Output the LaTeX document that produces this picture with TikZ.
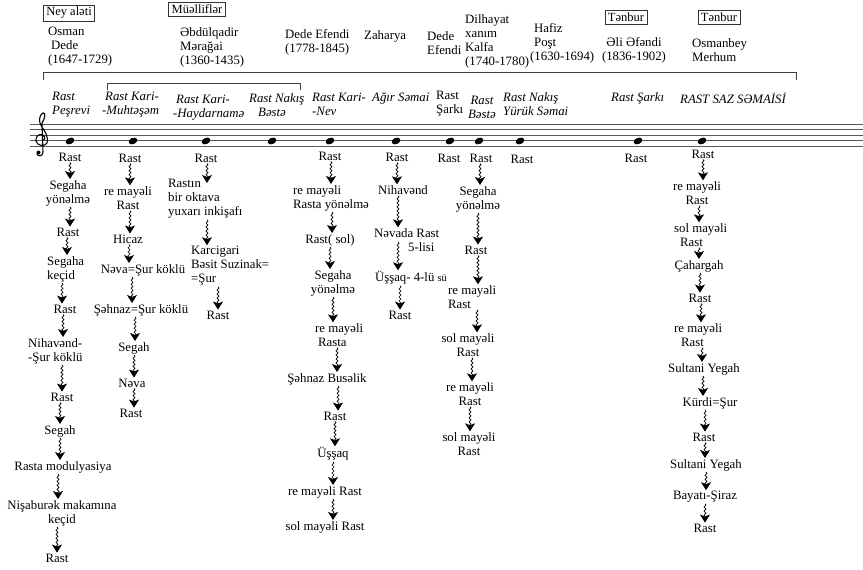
\documentclass[tikz,border=0pt]{standalone}
\usepackage{fontspec}
\setmainfont{Liberation Serif}
\usetikzlibrary{arrows.meta,decorations.pathmorphing}
\newcommand\fl[3]{\draw[flow] (#1.south -| #3,0) -- (#2.north -| #3,0);}
\begin{document}
\begin{tikzpicture}[x=1pt,y=-1pt,
  lbl/.style={font=\fontsize{12.8}{14}\selectfont, inner sep=1pt, align=center},
  hdr/.style={lbl, align=left, anchor=west},
  lft/.style={lbl, align=left, anchor=west},
  ttl/.style={lbl, font=\fontsize{12.8}{14}\selectfont\itshape, align=left, anchor=west},
  hbox/.style={draw=black!80, line width=0.6pt, inner xsep=3pt, inner ysep=2.5pt, font=\fontsize{12.5}{14}\selectfont},
  brk/.style={draw=black!75, line width=0.7pt},
  staff/.style={draw=black!65, line width=0.7pt},
  flow/.style={line width=0.7pt, decorate,
    decoration={snake, amplitude=1pt, segment length=4pt, post length=2pt},
    -{Stealth[length=8pt,width=10pt,inset=2pt]}}
]
\fill[white] (0,0) rectangle (863,570);
\useasboundingbox (0,0) rectangle (863,570);

% ---------- header ----------
\node[hbox] (hb1) at (69,13) {Ney aləti};
\node[hdr] (h1) at (47,47) {Osman\\\hspace*{3pt}Dede\\(1647-1729)};
\node[hbox] (hb2) at (197,9) {Müəlliflər};
\node[hdr] (h2) at (179,47) {Əbdülqadir\\Mərağai\\(1360-1435)};
\node[hdr] (h3) at (284,42) {Dede Efendi\\(1778-1845)};
\node[hdr] (h4) at (363,36) {Zaharya};
\node[hdr] (h5) at (426,43) {\hspace*{0pt}Dede\\Efendi};
\node[hdr] (h6) at (464,41) {Dilhayat\\xanım\\Kalfa\\(1740-1780)};
\node[hdr] (h7) at (529,43) {\hspace*{4pt}Hafiz\\\hspace*{4pt}Poşt\\(1630-1694)};
\node[hbox] (hb3) at (626,17.5) {Tənbur};
\node[lbl] (h8) at (634,50) {Əli Əfəndi\\(1836-1902)};
\node[hbox] (hb4) at (719,17.5) {Tənbur};
\node[hdr] (h9) at (691,50) {Osmanbey\\Merhum};

% ---------- brackets ----------
\draw[brk] (43,80) -- (43,72.5) -- (796,72.5) -- (796,80);
\draw[brk] (107,90) -- (107,83) -- (300,83) -- (300,90);

% ---------- titles ----------
\node[ttl] (t1) at (51,104.5) {Rast\\Peşrevi};
\node[ttl] (t2) at (101,104.5) {\hspace*{3pt}Rast Kari-\\-Muhtəşəm};
\node[ttl] (t3) at (172,107.5) {\hspace*{3pt}Rast Kari-\\-Haydarnamə};
\node[ttl] (t4) at (248,105) {Rast Nakış\\\hspace*{9pt}Bəstə};
\node[ttl] (t5) at (311,104.5) {Rast Kari-\\-Nev};
\node[ttl] (t6) at (371,98.5) {Ağır Səmai};
\node[lbl, align=left, anchor=west] (t7) at (435,104) {Rast\\Şarkı};
\node[lbl, font=\fontsize{12.8}{14}\selectfont\itshape] (t8) at (482,107.5) {Rast\\Bəstə};
\node[ttl] (t9) at (502,104.5) {Rast Nakış\\Yürük Səmai};
\node[ttl] (t10) at (610,98.5) {Rast Şarkı};
\node[ttl] (t11) at (679,98.5) {RAST SAZ SƏMAİSİ};

% ---------- staff ----------
\foreach \yy in {124,129.5,135,140.5,146} \draw[staff] (30,\yy) -- (863,\yy);
\draw[line width=1.1pt] (42,140) .. controls (45,141) and (46,137) .. (43,135)
  .. controls (39,133) and (35,137) .. (36,141)
  .. controls (37,146) and (45,147) .. (47,143)
  .. controls (49,138) and (45,131) .. (42,127)
  .. controls (38,122) and (39,115) .. (43,113)
  .. controls (46,112) and (45,119) .. (42,123)
  -- (43,152)
  .. controls (43,157) and (37,157) .. (37,153);
\fill (38.5,152.5) circle (2pt);
\foreach \xx in {70,133,206,272,330,396,450,479,520,638,702}
  \fill (\xx,141) ellipse [x radius=4.6pt, y radius=3.1pt, rotate=25];

% ---------- column 1 ----------
\node[lbl] (c1a) at (70,157) {Rast};
\node[lbl] (c1b) at (68,193) {Segaha\\yönəlmə};
\node[lbl] (c1c) at (68,232) {Rast};
\node[lft] (c1d) at (46,269) {Segaha\\keçid};
\node[lbl] (c1e) at (65,309) {Rast};
\node[lft] (c1f) at (27,351) {Nihavənd-\\-Şur köklü};
\node[lbl] (c1g) at (62,397) {Rast};
\node[lbl] (c1h) at (60,431) {Segah};
\node[lbl] (c1i) at (63,467) {Rasta modulyasiya};
\node[lbl] (c1j) at (62,513) {Nişaburək makamına\\keçid};
\node[lbl] (c1k) at (57,558) {Rast};
\fl{c1a}{c1b}{70} \fl{c1b}{c1c}{70} \fl{c1c}{c1d}{67} \fl{c1d}{c1e}{62}
\fl{c1e}{c1f}{63} \fl{c1f}{c1g}{62} \fl{c1g}{c1h}{60} \fl{c1h}{c1i}{60}
\fl{c1i}{c1j}{58} \fl{c1j}{c1k}{57}

% ---------- column 2 ----------
\node[lbl] (c2a) at (130,158) {Rast};
\node[lbl] (c2b) at (128,198) {re mayəli\\Rast};
\node[lbl] (c2c) at (128,239) {Hicaz};
\node[lbl] (c2d) at (143,270) {Nəva=Şur köklü};
\node[lbl] (c2e) at (141,310) {Şəhnaz=Şur köklü};
\node[lbl] (c2f) at (134,348) {Segah};
\node[lbl] (c2g) at (132,383) {Nəva};
\node[lbl] (c2h) at (131,413) {Rast};
\fl{c2a}{c2b}{130} \fl{c2b}{c2c}{130} \fl{c2c}{c2d}{129} \fl{c2d}{c2e}{132}
\fl{c2e}{c2f}{135} \fl{c2f}{c2g}{134} \fl{c2g}{c2h}{134}

% ---------- column 3 ----------
\node[lbl] (c3a) at (206,158) {Rast};
\node[lft] (c3b) at (167,199) {Rastın\\bir oktava\\yuxarı inkişafı};
\node[lft] (c3c) at (190,266) {Karcigari\\Bəsit Suzinak=\\=Şur};
\node[lbl] (c3d) at (218,315) {Rast};
\draw[flow] (c3a.south -| 207,0) -- (207,183);
\fl{c3b}{c3c}{207} \fl{c3c}{c3d}{218}

% ---------- column 5 ----------
\node[lbl] (c5a) at (330,156) {Rast};
\node[lft] (c5b) at (292,198) {re mayəli\\Rasta yönəlmə};
\node[lbl] (c5c) at (330,240) {Rast( sol)};
\node[lbl] (c5d) at (333,283) {Segaha\\yönəlmə};
\node[lft] (c5e) at (314,335) {re mayəli\\\hspace*{3pt}Rasta};
\node[lbl] (c5f) at (327,379) {Şəhnaz Busəlik};
\node[lbl] (c5g) at (335,416) {Rast};
\node[lbl] (c5h) at (333,454) {Üşşaq};
\node[lbl] (c5i) at (325,492) {re mayəli Rast};
\node[lbl] (c5j) at (325,527) {sol mayəli Rast};
\fl{c5a}{c5b}{331} \fl{c5b}{c5c}{332} \fl{c5c}{c5d}{330} \fl{c5d}{c5e}{333}
\fl{c5e}{c5f}{337} \fl{c5f}{c5g}{338} \fl{c5g}{c5h}{335} \fl{c5h}{c5i}{333}
\fl{c5i}{c5j}{333}

% ---------- column 6 ----------
\node[lbl] (c6a) at (397,157) {Rast};
\node[lbl] (c6b) at (403,190) {Nihavənd};
\node[lft] (c6c) at (373,240) {Nəvada Rast\\\hspace*{34pt}5-lisi};
\node[lbl] (c6d) at (411,278) {Üşşaq- 4-lü {\fontsize{10.5}{12}\selectfont sü}};
\node[lbl] (c6e) at (400,315) {Rast};
\fl{c6a}{c6b}{397} \fl{c6b}{c6c}{398}
\draw[flow] (398,242) -- (c6d.north -| 398,0);
\fl{c6d}{c6e}{400}

% ---------- columns 7, 9, 10 ----------
\node[lbl] (c7a) at (449,158) {Rast};
\node[lbl] (c9a) at (522,159) {Rast};
\node[lbl] (c10a) at (636,158) {Rast};

% ---------- column 8 ----------
\node[lbl] (c8a) at (481,158) {Rast};
\node[lbl] (c8b) at (478,199) {Segaha\\yönəlmə};
\node[lbl] (c8c) at (476,250) {Rast};
\node[lft] (c8d) at (447,297) {re mayəli\\Rast};
\node[lbl] (c8e) at (468,345) {sol mayəli\\Rast};
\node[lbl] (c8f) at (470,394) {re mayəli\\Rast};
\node[lbl] (c8g) at (469,444) {sol mayəli\\Rast};
\fl{c8a}{c8b}{480} \fl{c8b}{c8c}{478} \fl{c8c}{c8d}{478} \fl{c8d}{c8e}{477}
\fl{c8e}{c8f}{472} \fl{c8f}{c8g}{470}

% ---------- column 11 ----------
\node[lbl] (c11a) at (703,154) {Rast};
\node[lbl] (c11b) at (697,193) {re mayəli\\Rast};
\node[lft] (c11c) at (673,235) {sol mayəli\\\hspace*{6pt}Rast};
\node[lbl] (c11d) at (699,266) {Çahargah};
\node[lbl] (c11e) at (700,298) {Rast};
\node[lft] (c11f) at (673,335) {re mayəli\\\hspace*{7pt}Rast};
\node[lbl] (c11g) at (704,369) {Sultani Yegah};
\node[lbl] (c11h) at (710,403) {Kürdi=Şur};
\node[lbl] (c11i) at (704,437) {Rast};
\node[lbl] (c11j) at (706,465) {Sultani Yegah};
\node[lbl] (c11k) at (705,497) {Bayatı-Şiraz};
\node[lbl] (c11l) at (705,528) {Rast};
\fl{c11a}{c11b}{703} \fl{c11b}{c11c}{699} \fl{c11c}{c11d}{699} \fl{c11d}{c11e}{700}
\fl{c11e}{c11f}{701} \fl{c11f}{c11g}{702} \fl{c11g}{c11h}{703} \fl{c11h}{c11i}{705}
\fl{c11i}{c11j}{705} \fl{c11j}{c11k}{706} \fl{c11k}{c11l}{705}
\end{tikzpicture}
\end{document}
